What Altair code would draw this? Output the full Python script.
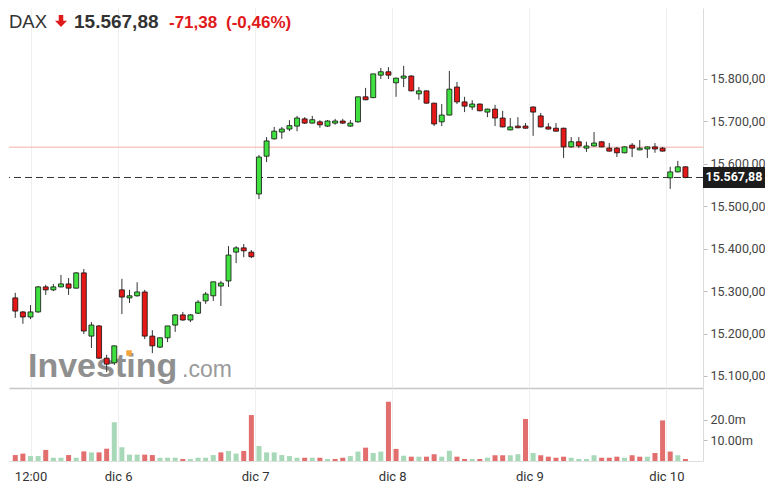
import altair as alt
import pandas as pd

# ---------------- data ----------------
idx = list(range(1, 90))
opens = [15284, 15251, 15239, 15251, 15310, 15303, 15310, 15317, 15307, 15343,
         15194, 15218, 15142, 15131, 15303, 15284, 15289, 15298, 15194, 15168,
         15190, 15220, 15244, 15232, 15248, 15277, 15289, 15312, 15324, 15392,
         15402, 15392, 15529, 15618, 15659, 15675, 15682, 15689, 15706, 15696,
         15699, 15689, 15696, 15701, 15689, 15699, 15758, 15756, 15809, 15817,
         15791, 15802, 15807, 15765, 15772, 15743, 15699, 15715, 15781, 15746,
         15734, 15741, 15722, 15729, 15708, 15680, 15689, 15689, 15734, 15713,
         15687, 15684, 15684, 15640, 15652, 15637, 15642, 15652, 15637, 15637,
         15626, 15644, 15633, 15635, 15640, 15637, 15567, 15581, 15593]
highs = [15296, 15253, 15267, 15312, 15315, 15317, 15338, 15331, 15345, 15352,
         15227, 15220, 15150, 15172, 15329, 15303, 15321, 15303, 15208, 15191,
         15218, 15246, 15251, 15246, 15279, 15298, 15322, 15324, 15406, 15406,
         15411, 15397, 15621, 15663, 15687, 15687, 15703, 15713, 15710, 15713,
         15703, 15703, 15706, 15706, 15703, 15758, 15779, 15812, 15826, 15828,
         15803, 15831, 15809, 15781, 15773, 15744, 15741, 15819, 15793, 15758,
         15750, 15742, 15730, 15739, 15725, 15708, 15710, 15696, 15735, 15720,
         15696, 15696, 15685, 15663, 15663, 15652, 15675, 15654, 15649, 15640,
         15641, 15649, 15656, 15641, 15649, 15640, 15593, 15607, 15594]
lows = [15237, 15223, 15234, 15249, 15291, 15300, 15309, 15291, 15306, 15199,
        15166, 15140, 15109, 15126, 15246, 15272, 15287, 15187, 15154, 15166,
        15180, 15204, 15230, 15227, 15246, 15270, 15277, 15265, 15310, 15366,
        15380, 15378, 15517, 15604, 15657, 15659, 15677, 15677, 15694, 15695,
        15685, 15687, 15692, 15694, 15687, 15697, 15750, 15755, 15800, 15800,
        15758, 15781, 15771, 15751, 15742, 15689, 15689, 15714, 15741, 15722,
        15727, 15724, 15710, 15689, 15686, 15679, 15684, 15683, 15666, 15686,
        15681, 15676, 15614, 15638, 15637, 15628, 15641, 15639, 15629, 15616,
        15625, 15616, 15632, 15614, 15626, 15629, 15541, 15580, 15566]
closes = [15253, 15239, 15251, 15310, 15303, 15310, 15317, 15307, 15343, 15206,
          15220, 15142, 15128, 15171, 15286, 15289, 15298, 15194, 15171, 15190,
          15218, 15244, 15232, 15244, 15274, 15293, 15322, 15319, 15385, 15402,
          15395, 15381, 15616, 15654, 15677, 15682, 15690, 15708, 15696, 15704,
          15692, 15701, 15701, 15696, 15696, 15758, 15751, 15812, 15817, 15809,
          15802, 15807, 15772, 15772, 15743, 15694, 15715, 15776, 15746, 15736,
          15741, 15725, 15729, 15708, 15687, 15687, 15685, 15684, 15722, 15687,
          15682, 15677, 15640, 15652, 15642, 15642, 15649, 15640, 15630, 15626,
          15640, 15637, 15637, 15640, 15635, 15630, 15581, 15593, 15567.88]
volumes = [2.9, 3.6, 2.4, 2.4, 5.4, 1.6, 1.6, 2.9, 1.6, 4.7,
           4.2, 4.2, 6.0, 18.9, 6.7, 3.1, 3.1, 3.1, 2.9, 1.6,
           1.6, 1.6, 1.0, 1.0, 1.6, 1.6, 2.9, 4.2, 4.9, 3.6,
           4.9, 22.4, 7.3, 4.2, 4.2, 2.9, 2.4, 1.6, 1.6, 1.6,
           1.6, 1.0, 1.0, 1.6, 2.4, 4.6, 6.5, 3.9, 4.6, 28.9,
           5.9, 2.6, 2.1, 2.1, 2.1, 3.3, 2.1, 5.0, 2.1, 1.0,
           1.0, 1.0, 1.6, 2.8, 2.8, 2.8, 3.3, 20.5, 3.9, 2.8,
           2.1, 1.6, 2.1, 1.6, 1.0, 1.0, 2.8, 1.6, 1.6, 2.1,
           1.6, 2.8, 2.1, 2.1, 3.9, 19.8, 4.6, 2.8, 1.0]
vol_dir = ["down", "down", "up", "up", "down", "up", "up", "down", "up", "down",
           "up", "down", "down", "up", "up", "up", "up", "down", "down", "up",
           "up", "up", "down", "up", "up", "up", "up", "down", "up", "up",
           "down", "down", "up", "up", "up", "up", "up", "up", "down", "up",
           "down", "up", "down", "down", "up", "up", "down", "up", "up", "down",
           "down", "up", "down", "up", "down", "down", "up", "up", "down", "down",
           "up", "down", "up", "down", "down", "up", "up", "down", "up", "down",
           "down", "down", "down", "up", "up", "up", "up", "down", "down", "down",
           "up", "down", "down", "up", "down", "down", "down", "up", "down"]

x_tick_values = [3, 14.5, 32.5, 50.5, 68.5, 86.5]
x_tick_labels = ["12:00", "dic 6", "dic 7", "dic 8", "dic 9", "dic 10"]
price_ticks = [15100, 15200, 15300, 15400, 15500, 15600, 15700, 15800]
vol_ticks = [10, 20]
vol_tick_labels = ["10.00m", "20.0m"]

last_price = 15567.88
prev_close = 15639.26
title_name = "DAX"
last_price_text = "15.567,88"
change_text = "-71,38"
pct_text = "(-0,46%)"

# ---------------- tables ----------------
df = pd.DataFrame({"i": idx, "open": opens, "high": highs, "low": lows, "close": closes})
df["dir"] = ["up" if c >= o else "down" for o, c in zip(opens, closes)]
vdf = pd.DataFrame({"i": idx, "vol": volumes, "vdir": vol_dir})
lines_df = pd.DataFrame({"p": [last_price], "lbl": [last_price_text]})
prev_df = pd.DataFrame({"p": [prev_close]})
one = pd.DataFrame({"a": [0]})

GREEN = "#3fe03f"
RED = "#e51717"
FONT = "Roboto"
TFONT = "Liberation Sans"

xscale = alt.Scale(domain=[0.832, 90.65], nice=False, zero=False)
yscale = alt.Scale(domain=[15071.7, 15967.3], nice=False, zero=False)
vscale = alt.Scale(domain=[0, 35.6], nice=False, zero=True)

x_label_expr = " : ".join(
    f"datum.value == {v} ? '{l}'" for v, l in zip(x_tick_values, x_tick_labels)
) + " : ''"
v_label_expr = " : ".join(
    f"datum.value == {v} ? '{l}'" for v, l in zip(vol_ticks, vol_tick_labels)
) + " : ''"
p_label_expr = "replace(replace(replace(format(datum.value, ',.2f'), ',', '#'), '.', ','), '#', '.')"

price_x_axis = alt.Axis(values=x_tick_values, labels=False, ticks=False, grid=True,
                        gridColor="#efefef", domainColor="#c6c6c6", domainWidth=1.5,
                        title=None)
price_y_axis = alt.Axis(orient="right", values=price_ticks, labelExpr=p_label_expr,
                        grid=False, tickSize=4, tickColor="#bdbdbd", domainColor="#dcdcdc",
                        labelPadding=3, labelFontSize=12.5, labelFont=FONT,
                        labelColor="#444444", title=None)

base = alt.Chart(df)

wicks = base.mark_rule(color="#333333", strokeWidth=1).encode(
    x=alt.X("i:Q", scale=xscale, axis=price_x_axis),
    y=alt.Y("low:Q", scale=yscale, axis=price_y_axis),
    y2="high:Q",
)
bodies = base.mark_bar(size=5, stroke="#111111", strokeWidth=0.8).encode(
    x=alt.X("i:Q", scale=xscale),
    y=alt.Y("open:Q", scale=yscale),
    y2="close:Q",
    color=alt.Color("dir:N", scale=alt.Scale(domain=["up", "down"], range=[GREEN, RED]),
                    legend=None),
)

prev_line = alt.Chart(prev_df).mark_rule(color="#f4b0a7", strokeWidth=1).encode(
    y=alt.Y("p:Q", scale=yscale))
last_line = alt.Chart(lines_df).mark_rule(color="#333333", strokeWidth=1,
                                          strokeDash=[7, 4]).encode(
    y=alt.Y("p:Q", scale=yscale))

box_shape = "M-1,-0.34L1,-0.34L1,0.34L-1,0.34Z"
last_box = alt.Chart(lines_df).mark_point(shape=box_shape, size=3844, filled=True,
                                          color="#1c1c1c", opacity=1, clip=False).encode(
    x=alt.value(725), y=alt.Y("p:Q", scale=yscale))
last_txt = alt.Chart(lines_df).mark_text(color="white", fontWeight="bold", fontSize=12.5,
                                         font=FONT, align="center", baseline="middle",
                                         clip=False).encode(
    x=alt.value(725), y=alt.Y("p:Q", scale=yscale), text="lbl:N")

# watermark
wm1 = alt.Chart(one).mark_text(text="Investing", font=TFONT, fontWeight="bold", fontSize=34,
                               color="#8f8f8f", align="left", baseline="alphabetic").encode(
    x=alt.value(19), y=alt.value(369))
wm2 = alt.Chart(one).mark_text(text=".com", font=TFONT, fontSize=23, color="#9a9a9a",
                               align="left", baseline="alphabetic").encode(
    x=alt.value(173), y=alt.value(369))
wm3 = alt.Chart(one).mark_point(shape="square", size=30, filled=True, color="#f5a53a",
                                opacity=1).encode(x=alt.value(120), y=alt.value(345))

# header
h1 = alt.Chart(one).mark_text(text=title_name, font=TFONT, fontSize=18.5, color="#333333",
                              align="left", baseline="alphabetic").encode(
    x=alt.value(0), y=alt.value(20))
arrow_shape = "M-0.38,-1L0.38,-1L0.38,-0.05L1,-0.05L0,1L-1,-0.05L-0.38,-0.05Z"
h_arrow = alt.Chart(one).mark_point(shape=arrow_shape, size=144, filled=True,
                                    color="#e0191b", opacity=1).encode(
    x=alt.value(52), y=alt.value(13))
h2 = alt.Chart(one).mark_text(text=last_price_text, font=TFONT, fontSize=19,
                              fontWeight="bold", color="#333333", align="left",
                              baseline="alphabetic").encode(x=alt.value(65), y=alt.value(20))
h3 = alt.Chart(one).mark_text(text=change_text, font=TFONT, fontSize=17,
                              fontWeight="bold", color="#e0191b", align="left",
                              baseline="alphabetic").encode(x=alt.value(160), y=alt.value(20))
h4 = alt.Chart(one).mark_text(text=pct_text, font=TFONT, fontSize=17,
                              fontWeight="bold", color="#e0191b", align="left",
                              baseline="alphabetic").encode(x=alt.value(217), y=alt.value(20))

price = alt.layer(
    wm1, wm2, wm3, prev_line, last_line, wicks, bodies, last_box, last_txt,
    h1, h_arrow, h2, h3, h4,
).properties(width=694, height=380)

vol_x_axis = alt.Axis(values=x_tick_values, labelExpr=x_label_expr, grid=True,
                      gridColor="#efefef", ticks=False, domainColor="#dedede",
                      labelPadding=9, labelFontSize=13, labelFont=FONT,
                      labelColor="#333333", labelFlush=False, title=None)
vol_y_axis = alt.Axis(orient="right", values=vol_ticks, labelExpr=v_label_expr, grid=False,
                      tickSize=4, tickColor="#bdbdbd", domainColor="#dcdcdc",
                      labelPadding=3, labelFontSize=12.5, labelFont=FONT,
                      labelColor="#444444", title=None)

volume = alt.Chart(vdf).mark_bar(size=5).encode(
    x=alt.X("i:Q", scale=xscale, axis=vol_x_axis),
    y=alt.Y("vol:Q", scale=vscale, axis=vol_y_axis),
    color=alt.Color("vdir:N", scale=alt.Scale(domain=["up", "down"],
                                              range=["#a7d9b8", "#e26e6e"]),
                    legend=None),
).properties(width=694, height=73)

chart = alt.vconcat(price, volume, spacing=0).resolve_scale(
    color="independent"
).properties(
    padding={"left": 0, "top": 0, "right": 0, "bottom": 0},
    background="white",
).configure_view(strokeWidth=0)

chart.save("out.html", embed_options={"renderer": "svg", "actions": False})
